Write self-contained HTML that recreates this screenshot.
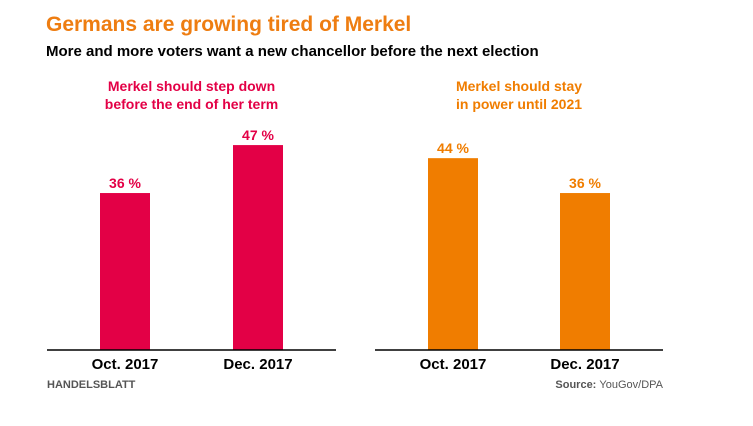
<!DOCTYPE html>
<html><head><meta charset="utf-8"><style>
body{margin:0;background:#fff;}
svg text{font-family:"Liberation Sans",sans-serif;font-weight:bold;}
</style></head><body>
<svg width="753" height="421" viewBox="0 0 753 421" xmlns="http://www.w3.org/2000/svg">
<text x="46" y="31" font-size="21" fill="#ee7d11">Germans are growing tired of Merkel</text>
<text x="46" y="56" font-size="15" fill="#000">More and more voters want a new chancellor before the next election</text>
<g id="left"></g>
<g id="right"></g>
<text x="47" y="388" font-size="11" fill="#555">HANDELSBLATT</text>
<text x="663" y="388" font-size="11" fill="#555" text-anchor="end">Source: <tspan font-weight="normal">YouGov/DPA</tspan></text>
</svg>
<script>
const categories=["Oct. 2017","Dec. 2017"];
const stepDownValues=[36,47];
const stayValues=[44,36];
const panelTitlesLeft=["Merkel should step down","before the end of her term"];
const panelTitlesRight=["Merkel should stay","in power until 2021"];
const NS="http://www.w3.org/2000/svg";
const baseY=350, pxPer=4.36;
function y(v){return baseY-v*pxPer;}
function mk(p,t,a){const e=document.createElementNS(NS,t);for(const k in a)e.setAttribute(k,a[k]);p.appendChild(e);return e;}
function panel(id,x0,x1,barXs,vals,titles,color){
  const g=document.getElementById(id);
  const cx=(x0+x1)/2;
  titles.forEach((t,i)=>{const e=mk(g,'text',{x:cx,y:91+i*18,'font-size':14,fill:color,'text-anchor':'middle'});e.textContent=t;
    
    });
  vals.forEach((v,i)=>{
    const r=mk(g,'rect',{x:barXs[i],y:y(v),width:50,height:baseY-y(v),fill:color});
    
    
    const l=mk(g,'text',{x:barXs[i]+25,y:y(v)-5,'font-size':14,fill:color,'text-anchor':'middle'});
    l.textContent=v+' %';
    
    
    const c=mk(g,'text',{x:barXs[i]+25,y:369,'font-size':15,fill:'#000','text-anchor':'middle'});
    c.textContent=categories[i];
    
    
  });
  const ax=mk(g,'line',{x1:x0,x2:x1,y1:baseY,y2:baseY,stroke:'#000','stroke-width':1.5});
  
  
}
panel('left',47,336,[100,233],stepDownValues,panelTitlesLeft,'#e30046');
panel('right',375,663,[428,560],stayValues,panelTitlesRight,'#f07d00');
</script>
</body></html>
